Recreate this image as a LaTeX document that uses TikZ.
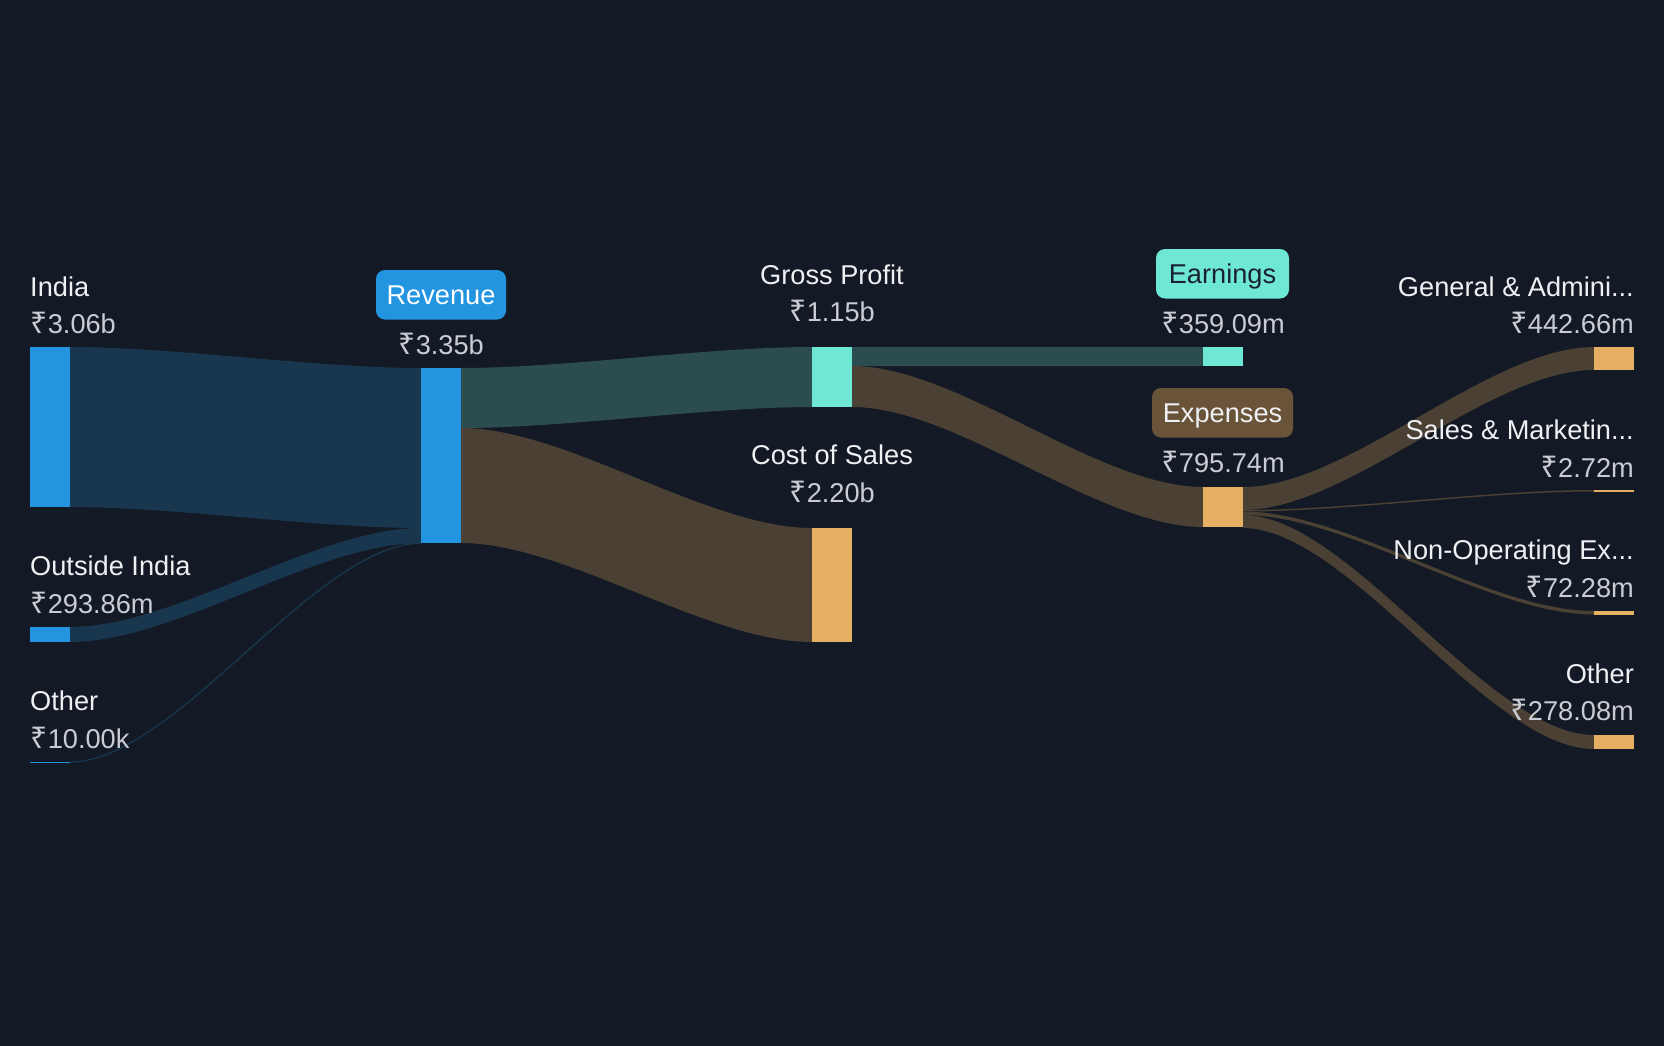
\documentclass[tikz,border=0pt]{standalone}
\usepackage{fontspec}
\setmainfont{Liberation Sans}
\newfontfamily\rupfont[Scale=1.1]{Noto Sans}
\newcommand\Rs{{\rupfont ₹}\kern0.5pt}
\definecolor{bgc}{HTML}{141A25}
\definecolor{barblue}{HTML}{2394DF}
\definecolor{linkblue}{HTML}{18374F}
\definecolor{barteal}{HTML}{6EE8D4}
\definecolor{linkteal}{HTML}{2B4D50}
\definecolor{barorange}{HTML}{E5B061}
\definecolor{linkbrown}{HTML}{4A4034}
\definecolor{expbox}{HTML}{6A5439}
\definecolor{lblc}{HTML}{EEF0F3}
\definecolor{valc}{HTML}{C9CDD3}
\definecolor{darktxt}{HTML}{1A2130}
\newcommand\band[7]{%
  \fill[#7] (#1,#2) .. controls ({#1+0.3*(#4-#1)},#2) and ({#4-0.3*(#4-#1)},#5) .. (#4,#5)
    -- (#4,#6) .. controls ({#4-0.3*(#4-#1)},#6) and ({#1+0.3*(#4-#1)},#3) .. (#1,#3) -- cycle;}
\tikzset{
  lbl/.style={text=lblc, inner sep=0pt, font=\fontsize{27.2}{30}\selectfont},
  val/.style={text=valc, inner sep=0pt, font=\fontsize{27.2}{30}\selectfont},
  tagbox/.style={rounded corners=9pt, inner xsep=0pt, inner ysep=0pt,
    text height=34pt, text depth=15.5pt, anchor=base, align=center,
    font=\fontsize{27.2}{30}\selectfont},
}
\begin{document}
\begin{tikzpicture}[x=1pt,y=-1pt]
\fill[bgc] (0,0) rectangle (1664,1046);
\useasboundingbox (0,0) rectangle (1664,1046);
% flows
\band{70}{347}{507}{421}{368}{528}{linkblue}
\band{70}{627}{642}{421}{528}{543}{linkblue}
\draw[linkblue, line width=1.3pt] (70,762) .. controls (175.3,762) and (315.7,543.3) .. (421,543.3);
\band{461}{368}{428}{812}{347}{407}{linkteal}
\band{461}{428}{543}{812}{528}{642}{linkbrown}
\band{852}{347}{366}{1203}{347}{366}{linkteal}
\band{852}{366}{407}{1203}{487}{527}{linkbrown}
\band{1243}{487}{510}{1594}{347}{370}{linkbrown}
\band{1243}{510}{511.5}{1594}{490}{491.5}{linkbrown}
\band{1243}{511.5}{515}{1594}{611}{614.5}{linkbrown}
\band{1243}{515}{528}{1594}{735}{749}{linkbrown}
% bars
\fill[barblue] (30,347) rectangle (70,507);
\fill[barblue] (30,627) rectangle (70,642);
\fill[barblue] (30,761.5) rectangle (70,763);
\fill[barblue] (421,368) rectangle (461,543);
\fill[barteal] (812,347) rectangle (852,407);
\fill[barorange] (812,528) rectangle (852,642);
\fill[barteal] (1203,347) rectangle (1243,366);
\fill[barorange] (1203,487) rectangle (1243,527);
\fill[barorange] (1594,347) rectangle (1634,370);
\fill[barorange] (1594,490) rectangle (1634,492);
\fill[barorange] (1594,611) rectangle (1634,614.5);
\fill[barorange] (1594,735) rectangle (1634,749);
% left labels
\node[lbl, anchor=base west] (indial) at (30,296) {India};
\node[val, anchor=base west] (indiav) at (30,333) {\Rs3.06b};
\node[lbl, anchor=base west] (outl) at (30,575) {Outside India};
\node[val, anchor=base west] (outv) at (30,613) {\Rs293.86m};
\node[lbl, anchor=base west] (othl) at (30,710) {Other};
\node[val, anchor=base west] (othv) at (30,748) {\Rs10.00k};
% revenue
\node[tagbox, fill=barblue, text=white, minimum width=130pt] (revl) at (441,304) {Revenue};
\node[val, anchor=base] (revv) at (441,354) {\Rs3.35b};
% gross profit / cost of sales
\node[lbl, anchor=base] (gpl) at (832,284) {Gross Profit};
\node[val, anchor=base] (gpv) at (832,321) {\Rs1.15b};
\node[lbl, anchor=base] (cosl) at (832,464) {Cost of Sales};
\node[val, anchor=base] (cosv) at (832,502) {\Rs2.20b};
% earnings / expenses
\node[tagbox, fill=barteal, text=darktxt, minimum width=133pt] (earnl) at (1222.5,283) {Earnings};
\node[val, anchor=base] (earnv) at (1223,333) {\Rs359.09m};
\node[tagbox, fill=expbox, text=lblc, minimum width=141pt] (expl) at (1222.5,422) {Expenses};
\node[val, anchor=base] (expv) at (1223,472) {\Rs795.74m};
% right labels
\node[lbl, anchor=base east] (gal) at (1634,296) {General \& Admini...};
\node[val, anchor=base east] (gav) at (1634,333) {\Rs442.66m};
\node[lbl, anchor=base east] (sml) at (1634,439) {Sales \& Marketin...};
\node[val, anchor=base east] (smv) at (1634,477) {\Rs2.72m};
\node[lbl, anchor=base east] (nol) at (1634,559) {Non-Operating Ex...};
\node[val, anchor=base east] (nov) at (1634,597) {\Rs72.28m};
\node[lbl, anchor=base east] (rol) at (1634,683) {Other};
\node[val, anchor=base east] (rov) at (1634,720) {\Rs278.08m};
\end{tikzpicture}
\end{document}
